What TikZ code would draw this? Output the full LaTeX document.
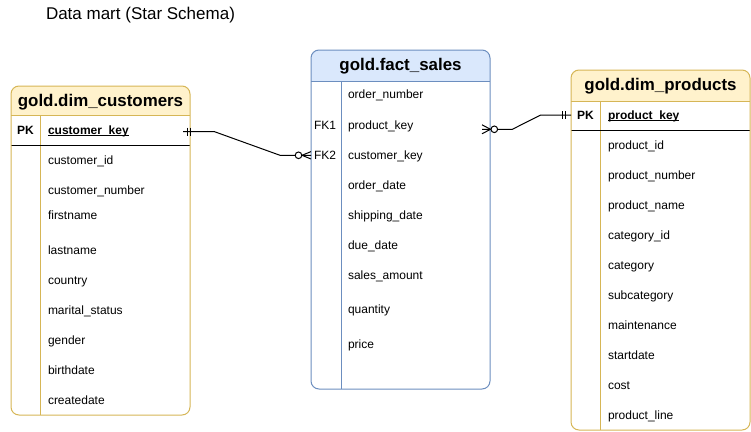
\documentclass[tikz,border=0pt]{standalone}
\usepackage{fontspec}
\setmainfont{Liberation Sans}
\newlength{\du}
\setlength{\du}{1pt}
\definecolor{dimfillcolor}{rgb}{1.000000, 0.949020, 0.800000}
\definecolor{dimlinecolor}{rgb}{0.839216, 0.713725, 0.337255}
\definecolor{factfillcolor}{rgb}{0.854902, 0.909804, 0.988235}
\definecolor{factlinecolor}{rgb}{0.423529, 0.556863, 0.749020}
\definecolor{dialinecolor}{rgb}{0.000000, 0.000000, 0.000000}
\tikzset{
  rowlabel/.style={anchor=base west,inner sep=0pt,outer sep=0pt,color=dialinecolor,font=\fontsize{12}{14}\selectfont},
  keylabel/.style={rowlabel,font=\fontsize{12}{14}\selectfont\bfseries},
  tablelabel/.style={anchor=base,inner sep=0pt,outer sep=0pt,color=dialinecolor,font=\fontsize{16.9}{20}\selectfont\bfseries},
  tableframe/.style={rounded corners=8\du},
  relline/.style={draw=dialinecolor,line width=1\du},
  keyline/.style={draw=dialinecolor,line width=1\du},
}

\begin{document}
\begin{tikzpicture}
\pgftransformyscale{-1.000000}
\pgfsetlinewidth{1.000000\du}
\useasboundingbox (0\du,0\du) rectangle (751\du,431\du);
% page title
\node[anchor=base west,inner sep=0pt,outer sep=0pt,font=\fontsize{17}{20}\selectfont] (martlabel) at (46\du,19\du){Data mart (Star Schema)};

% gold.dim_customers
\fill[white,tableframe] (11\du,86\du) rectangle (190\du,415\du);
\begin{scope}
\clip[tableframe] (11\du,86\du) rectangle (190\du,415\du);
\fill[dimfillcolor] (11\du,86\du) rectangle (190\du,115\du);
\end{scope}
\draw[dimlinecolor] (11\du,115\du)--(190\du,115\du);
\draw[dimlinecolor] (40\du,115\du)--(40\du,415\du);
\draw[dialinecolor] (11\du,145\du)--(190\du,145\du);
\draw[dimlinecolor,tableframe] (11\du,86\du) rectangle (190\du,415\du);
\node[tablelabel] (custtitle) at (100.5\du,106.5\du){gold.dim\_customers};
\node[keylabel] (custpk) at (17\du,134\du){PK};
\node[keylabel] (custkey) at (48\du,134\du){customer\_key};
\draw[keyline] ([yshift=1.2\du]custkey.base west)--([yshift=1.2\du]custkey.base east);
\node[rowlabel] (custid) at (48\du,164\du){customer\_id};
\node[rowlabel] (custnumber) at (48\du,194\du){customer\_number};
\node[rowlabel] (custfirst) at (48\du,219\du){firstname};
\node[rowlabel] (custlast) at (48\du,254\du){lastname};
\node[rowlabel] (custcountry) at (48\du,284\du){country};
\node[rowlabel] (custmarital) at (48\du,314\du){marital\_status};
\node[rowlabel] (custgender) at (48\du,344\du){gender};
\node[rowlabel] (custbirth) at (48\du,374\du){birthdate};
\node[rowlabel] (custcreate) at (48\du,404\du){createdate};

% gold.fact_sales
\fill[white,tableframe] (311\du,50\du) rectangle (490\du,389\du);
\begin{scope}
\clip[tableframe] (311\du,50\du) rectangle (490\du,389\du);
\fill[factfillcolor] (311\du,50\du) rectangle (490\du,81\du);
\end{scope}
\draw[factlinecolor] (311\du,81\du)--(490\du,81\du);
\draw[factlinecolor] (341\du,81\du)--(341\du,389\du);
\draw[factlinecolor,tableframe] (311\du,50\du) rectangle (490\du,389\du);
\node[tablelabel] (facttitle) at (400.5\du,70.5\du){gold.fact\_sales};
\node[rowlabel] (factorder) at (348\du,98.5\du){order\_number};
\node[rowlabel] (factfka) at (314\du,129\du){FK1};
\node[rowlabel] (factprod) at (348\du,129\du){product\_key};
\node[rowlabel] (factfkb) at (314\du,159\du){FK2};
\node[rowlabel] (factcust) at (348\du,159\du){customer\_key};
\node[rowlabel] (factodate) at (348\du,189\du){order\_date};
\node[rowlabel] (factsdate) at (348\du,219\du){shipping\_date};
\node[rowlabel] (factddate) at (348\du,249\du){due\_date};
\node[rowlabel] (factamount) at (348\du,279\du){sales\_amount};
\node[rowlabel] (factqty) at (348\du,313\du){quantity};
\node[rowlabel] (factprice) at (348\du,348\du){price};

% gold.dim_products
\fill[white,tableframe] (571\du,70\du) rectangle (750\du,430\du);
\begin{scope}
\clip[tableframe] (571\du,70\du) rectangle (750\du,430\du);
\fill[dimfillcolor] (571\du,70\du) rectangle (750\du,101\du);
\end{scope}
\draw[dimlinecolor] (571\du,101\du)--(750\du,101\du);
\draw[dimlinecolor] (600\du,101\du)--(600\du,430\du);
\draw[dialinecolor] (571\du,130\du)--(750\du,130\du);
\draw[dimlinecolor,tableframe] (571\du,70\du) rectangle (750\du,430\du);
\node[tablelabel] (prodtitle) at (660.5\du,90.5\du){gold.dim\_products};
\node[keylabel] (prodpk) at (577\du,119\du){PK};
\node[keylabel] (prodkey) at (608\du,119\du){product\_key};
\draw[keyline] ([yshift=1.2\du]prodkey.base west)--([yshift=1.2\du]prodkey.base east);
\node[rowlabel] (prodid) at (608\du,149\du){product\_id};
\node[rowlabel] (prodnumber) at (608\du,179\du){product\_number};
\node[rowlabel] (prodname) at (608\du,209\du){product\_name};
\node[rowlabel] (prodcatid) at (608\du,239\du){category\_id};
\node[rowlabel] (prodcat) at (608\du,269\du){category};
\node[rowlabel] (prodsubcat) at (608\du,299\du){subcategory};
\node[rowlabel] (prodmaint) at (608\du,329\du){maintenance};
\node[rowlabel] (prodstart) at (608\du,359\du){startdate};
\node[rowlabel] (prodcost) at (608\du,389\du){cost};
\node[rowlabel] (prodline) at (608\du,419\du){product\_line};

% customer_key -> FK2
\coordinate (custkeyend) at (183\du,131.5\du);
\coordinate (custbenda) at (214\du,131.5\du);
\coordinate (custbendb) at (280\du,155.3\du);
\coordinate (fkcustend) at (311\du,155.3\du);
\draw[relline] (custkeyend)--(custbenda)--(custbendb)--(fkcustend);
\draw[relline] ([xshift=4.5\du,yshift=-4\du]custkeyend)--([xshift=4.5\du,yshift=4\du]custkeyend);
\draw[relline] ([xshift=7\du,yshift=-4\du]custkeyend)--([xshift=7\du,yshift=4\du]custkeyend);
\draw[relline] ([xshift=-9\du]fkcustend)--([yshift=-3.7\du]fkcustend);
\draw[relline] ([xshift=-9\du]fkcustend)--([yshift=3.7\du]fkcustend);
\draw[relline,fill=white] ([xshift=-12.5\du]fkcustend) circle (3.3\du);

% FK1 -> product_key
\coordinate (fkprodend) at (482\du,129.3\du);
\coordinate (prodbenda) at (512.3\du,129.3\du);
\coordinate (prodbendb) at (540.7\du,115\du);
\coordinate (prodkeyend) at (571\du,115\du);
\draw[relline] (fkprodend)--(prodbenda)--(prodbendb)--(prodkeyend);
\draw[relline] ([xshift=8.5\du]fkprodend)--([yshift=-4.5\du]fkprodend);
\draw[relline] ([xshift=8.5\du]fkprodend)--([yshift=4.5\du]fkprodend);
\draw[relline,fill=white] ([xshift=12.3\du]fkprodend) circle (3.3\du);
\draw[relline] ([xshift=-8.7\du,yshift=-3.7\du]prodkeyend)--([xshift=-8.7\du,yshift=3.7\du]prodkeyend);
\draw[relline] ([xshift=-6\du,yshift=-3.7\du]prodkeyend)--([xshift=-6\du,yshift=3.7\du]prodkeyend);
\end{tikzpicture}
\end{document}
